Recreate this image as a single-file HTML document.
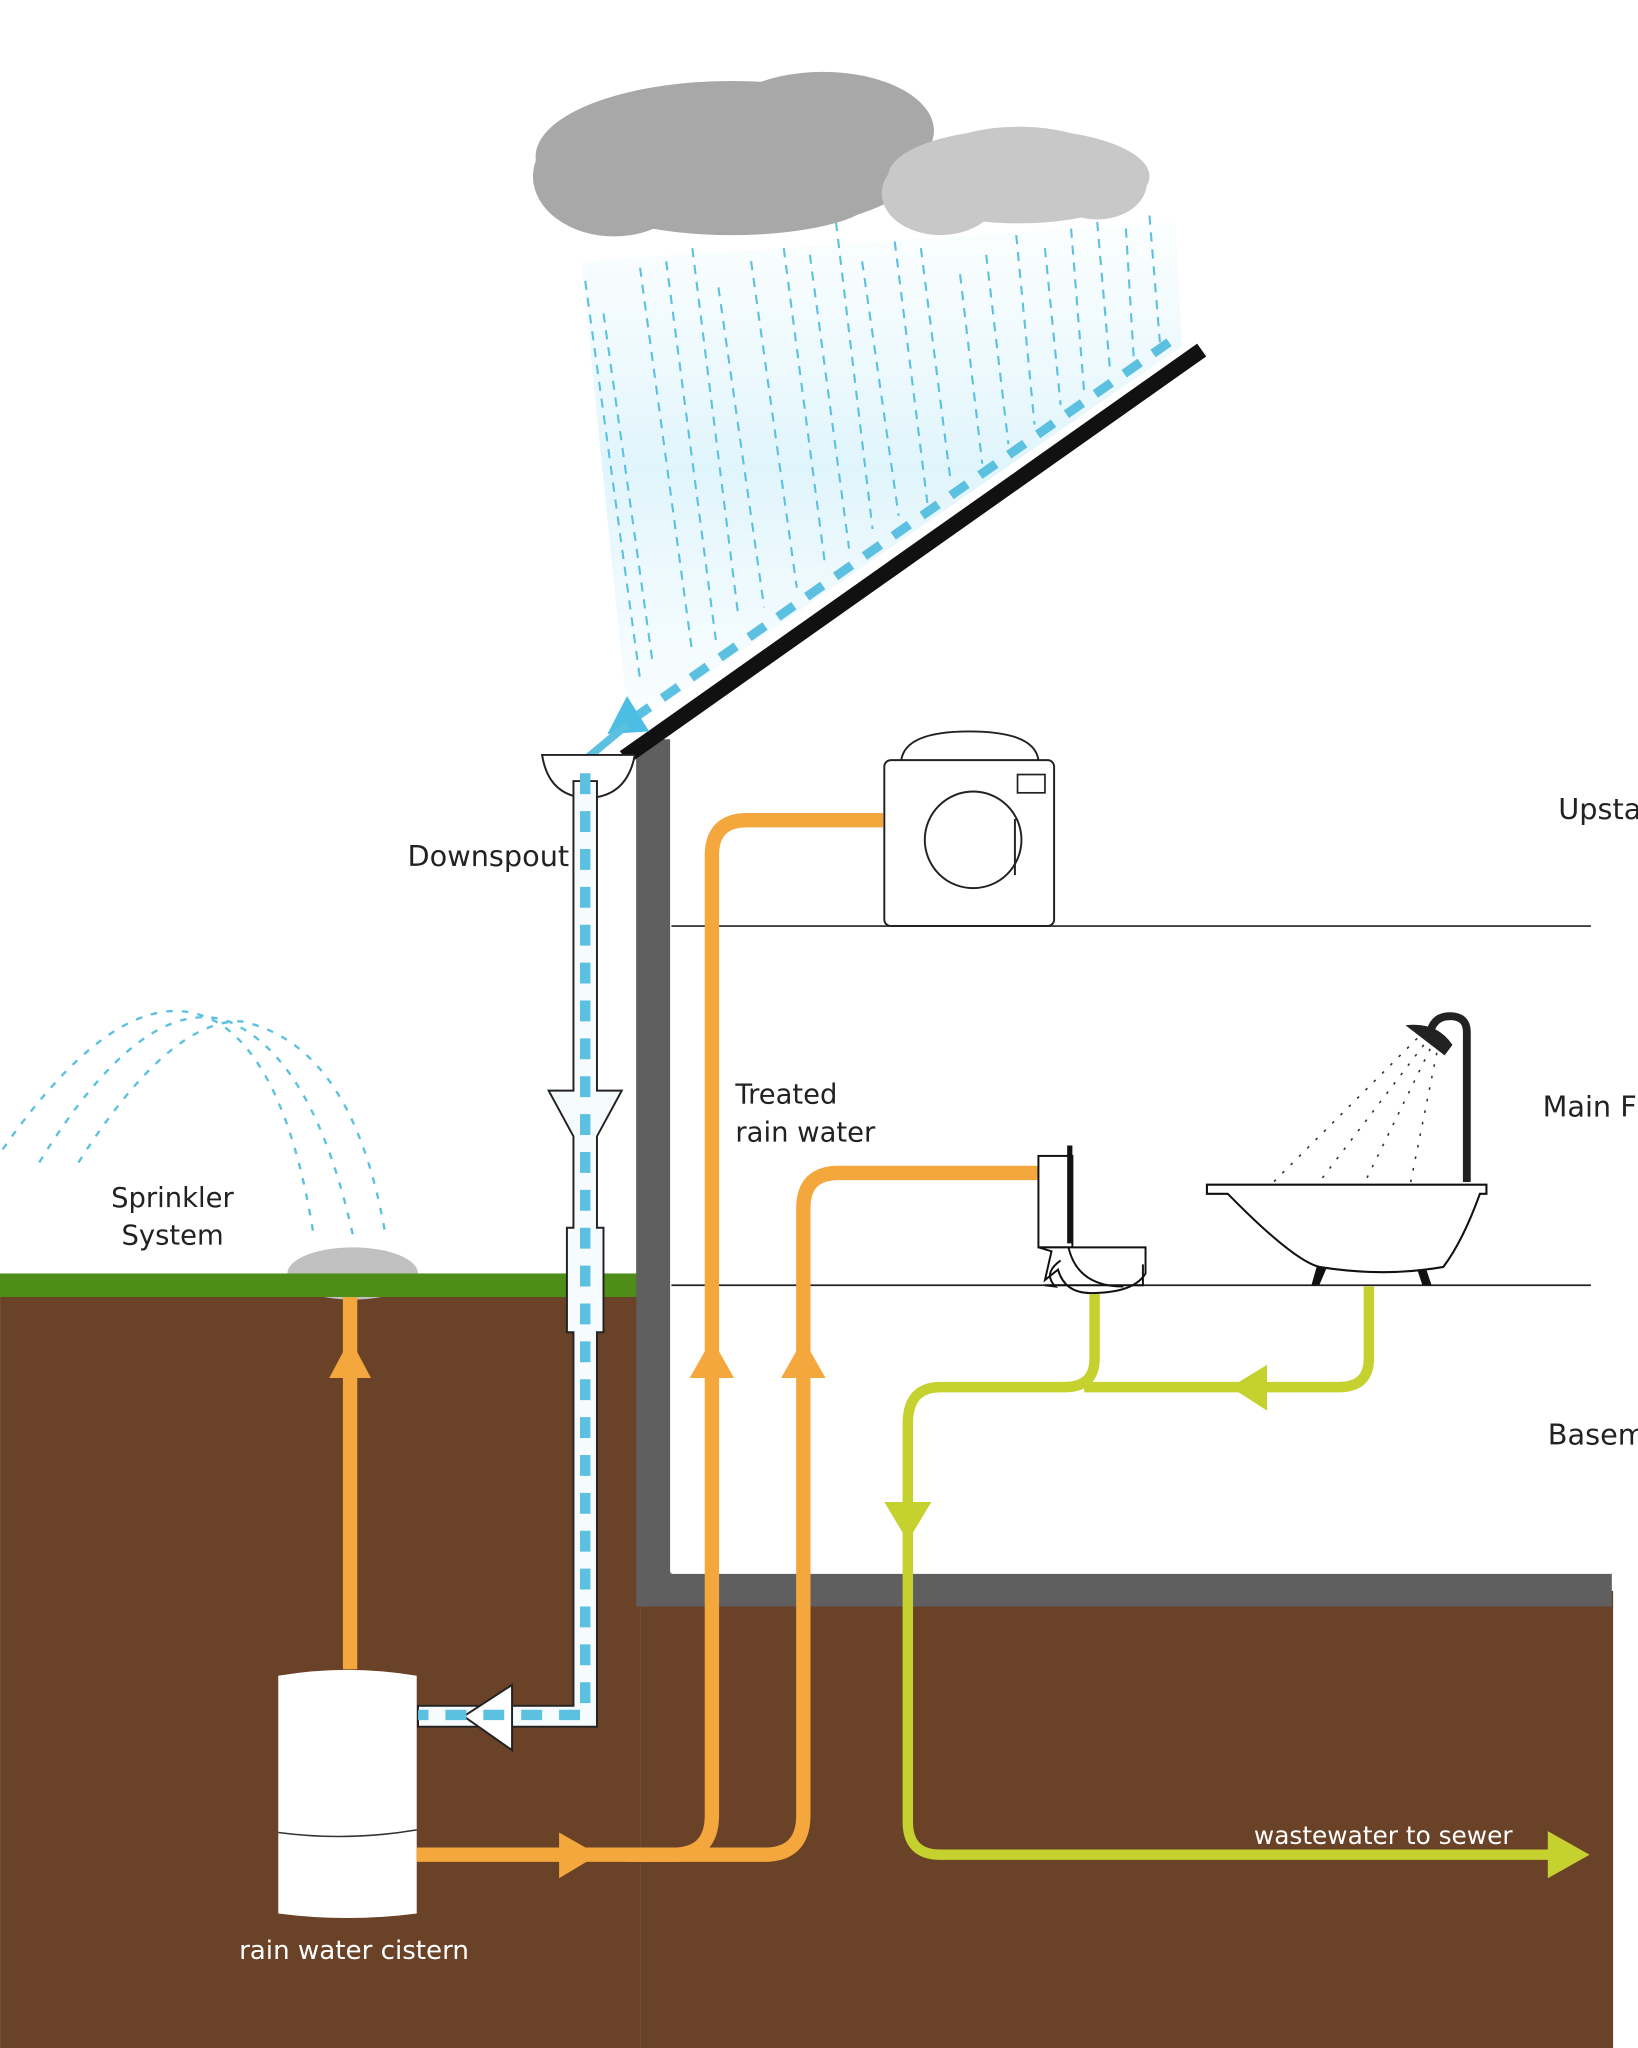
<!DOCTYPE html>
<html><head><meta charset="utf-8"><style>
html,body{margin:0;padding:0;background:#fff;overflow:hidden}
svg{display:block}
text{font-family:"DejaVu Sans","Liberation Sans",sans-serif;fill:#222}
</style></head><body>
<svg width="1638" height="2048" viewBox="0 0 1254 1568" xmlns="http://www.w3.org/2000/svg">
<defs>
<linearGradient id="rg" x1="0" y1="0" x2="0" y2="1"><stop offset="0" stop-color="#e6f7fd" stop-opacity="0.2"/><stop offset="0.5" stop-color="#d8f2fb"/><stop offset="1" stop-color="#e6f7fd" stop-opacity="0.3"/></linearGradient>
</defs>
<rect width="1254" height="1568" fill="#fff"/>
<!-- ground -->
<rect x="0" y="985" width="490" height="583" fill="#6a4227"/>
<rect x="490" y="1218" width="745" height="350" fill="#6a4227"/>
<rect x="0" y="975" width="490" height="18" fill="#4e8d17"/>
<!-- rain haze -->
<polygon points="445,200 900,170 905,265 500,545 480,545" fill="url(#rg)" opacity="0.8"/>
<g stroke="#5cc0e0" stroke-width="1.6" stroke-dasharray="7,6" fill="none">
<line x1="448" y1="215" x2="490" y2="520"/><line x1="462" y1="240" x2="500" y2="510"/>
<line x1="490" y1="205" x2="530" y2="500"/><line x1="510" y1="200" x2="548" y2="490"/>
<line x1="530" y1="190" x2="565" y2="470"/><line x1="550" y1="220" x2="585" y2="465"/>
<line x1="575" y1="200" x2="610" y2="450"/><line x1="600" y1="190" x2="632" y2="435"/>
<line x1="620" y1="195" x2="650" y2="420"/><line x1="640" y1="170" x2="668" y2="405"/>
<line x1="660" y1="200" x2="688" y2="395"/><line x1="685" y1="185" x2="710" y2="385"/>
<line x1="705" y1="190" x2="728" y2="370"/><line x1="735" y1="210" x2="752" y2="355"/>
<line x1="755" y1="195" x2="772" y2="340"/><line x1="778" y1="180" x2="792" y2="325"/>
<line x1="800" y1="190" x2="812" y2="310"/><line x1="820" y1="175" x2="830" y2="300"/>
<line x1="840" y1="170" x2="850" y2="285"/><line x1="862" y1="175" x2="868" y2="275"/>
<line x1="880" y1="165" x2="888" y2="262"/>
</g>
<!-- clouds -->
<g fill="#a8a8a8">
<ellipse cx="560" cy="120" rx="150" ry="58"/><ellipse cx="470" cy="135" rx="62" ry="46"/>
<ellipse cx="630" cy="100" rx="85" ry="45"/><ellipse cx="560" cy="150" rx="110" ry="30"/>
</g>
<g fill="#c8c8c8">
<ellipse cx="780" cy="135" rx="100" ry="36"/><ellipse cx="720" cy="148" rx="45" ry="32"/><ellipse cx="840" cy="140" rx="38" ry="28"/><ellipse cx="780" cy="125" rx="70" ry="28"/>
</g>
<!-- sprinkler arcs -->
<g stroke="#5cc0e0" stroke-width="1.8" stroke-dasharray="5,7" fill="none">
<path d="M2,880 Q100,740 170,785 Q220,820 240,945"/>
<path d="M30,890 Q110,760 175,782 Q240,810 270,945"/>
<path d="M60,890 Q130,780 185,782 Q270,800 295,945"/>
</g>
<ellipse cx="270" cy="975" rx="50" ry="20" fill="#c0c0c0"/>
<rect x="0" y="975" width="490" height="18" fill="#4e8d17"/>
<text x="85" y="924" font-size="21">Sprinkler</text>
<text x="93" y="953" font-size="21">System</text>
<!-- house wall -->
<path d="M500,566 V1217 H1234" stroke="#5f5f5f" stroke-width="26" fill="none"/>
<rect x="514" y="566" width="720" height="639" fill="#fff"/>
<line x1="514" y1="709" x2="1218" y2="709" stroke="#222" stroke-width="1.3"/>
<line x1="514" y1="984" x2="1218" y2="984" stroke="#222" stroke-width="1.3"/>
<!-- roof -->
<line x1="478" y1="580" x2="920" y2="268" stroke="#111" stroke-width="12"/>
<line x1="895" y1="262" x2="485" y2="550" stroke="#5cc0e0" stroke-width="7" stroke-dasharray="15,12"/>
<polygon points="480,533 465,562 497,560" fill="#4cbde3"/>
<line x1="480" y1="555" x2="450" y2="580" stroke="#5cc0e0" stroke-width="6"/>
<text x="1193" y="627" font-size="22">Upstai</text>
<text x="1181" y="855" font-size="22">Main Fl</text>
<text x="1185" y="1106" font-size="22">Baseme</text>
<!-- downspout -->
<path d="M415,578 H486 Q480,610 450,611 Q420,610 415,578 Z" fill="#fff" stroke="#222" stroke-width="1.5"/>
<path d="M439,598 V835 H420 L439,870 V940 H434 V1020 H439 V1306 H320 V1322 H457 V1020 H462 V940 H457 V870 L476,835 H457 V598 Z" fill="#f6fbfd" stroke="#222" stroke-width="1.5"/>
<polygon points="392,1290 392,1340 355,1314" fill="#fff" stroke="#222" stroke-width="1.5"/>
<path d="M448,592 V1313 H320" stroke="#5cc0e0" stroke-width="8" stroke-dasharray="16,13" fill="none"/>
<text x="312" y="663" font-size="22">Downspout</text>
<!-- cistern -->
<path d="M213,1283 Q266,1274 319,1283 V1465 Q266,1472 213,1465 Z" fill="#fff"/>
<path d="M213,1403 Q266,1410 319,1401" stroke="#333" stroke-width="1.2" fill="none"/>
<text x="183" y="1500" font-size="20" fill="#fff" style="fill:#fff">rain water cistern</text>
<!-- orange pipes -->
<g stroke="#f3a73c" stroke-width="11" fill="none">
<line x1="268" y1="1278" x2="268" y2="993"/>
<path d="M319,1420 H515 Q545,1420 545,1390 V655 Q545,628 572,628 H676"/>
<path d="M480,1420 H585 Q615,1420 615,1390 V925 Q615,898 642,898 H795"/>
</g>
<g fill="#f3a73c">
<polygon points="252,1055 284,1055 268,1025"/>
<polygon points="528,1055 562,1055 545,1025"/>
<polygon points="598,1055 632,1055 615,1025"/>
<polygon points="428,1403 428,1438 458,1420"/>
</g>
<!-- green pipes -->
<g stroke="#c5d12e" stroke-width="8" fill="none">
<path d="M838,985 V1040 Q838,1062 815,1062 H720 Q695,1062 695,1090 V1395 Q695,1420 720,1420 H1190"/>
<path d="M1048,985 V1040 Q1048,1062 1025,1062 H830"/>
</g>
<g fill="#c5d12e">
<polygon points="942,1062 970,1045 970,1080"/>
<polygon points="677,1150 713,1150 695,1180"/>
<polygon points="1185,1402 1185,1438 1217,1420"/>
</g>
<text x="960" y="1412" font-size="19" style="fill:#fff">wastewater to sewer</text>
<text x="563" y="845" font-size="21">Treated</text>
<text x="563" y="874" font-size="21">rain water</text>
<!-- washing machine -->
<path d="M690,582 Q693,560 742,560 Q792,560 795,582" fill="#fff" stroke="#222" stroke-width="1.5"/>
<rect x="677" y="582" width="130" height="127" rx="5" fill="#fff" stroke="#222" stroke-width="1.5"/>
<rect x="779" y="593" width="21" height="14" fill="none" stroke="#222" stroke-width="1.3"/>
<circle cx="745" cy="643" r="37" fill="none" stroke="#222" stroke-width="1.5"/>
<line x1="777" y1="627" x2="777" y2="670" stroke="#222" stroke-width="1.5"/>
<!-- toilet -->
<rect x="795" y="885" width="26" height="70" fill="#fff" stroke="#111" stroke-width="1.5"/>
<line x1="819" y1="877" x2="819" y2="952" stroke="#111" stroke-width="4"/>
<path d="M795,955 H877 V975 Q868,990 835,990 Q815,990 810,972 L800,980 L805,958 Z" fill="#fff" stroke="#111" stroke-width="1.5"/>
<path d="M818,955 Q825,985 860,985" fill="none" stroke="#111" stroke-width="1.5"/>
<path d="M812,965 Q798,975 808,985 L800,984 H875 V968" fill="none" stroke="#111" stroke-width="1.5"/>
<!-- tub -->
<path d="M1123,905 V790 Q1123,778 1110,778 Q1098,778 1095,790" stroke="#222" stroke-width="6" fill="none"/>
<path d="M1076,785 Q1100,782 1112,800 L1106,808 Z" fill="#222"/>
<g stroke="#333" stroke-width="1.2" stroke-dasharray="2,7" fill="none">
<line x1="1085" y1="795" x2="975" y2="905"/><line x1="1090" y1="800" x2="1010" y2="905"/>
<line x1="1095" y1="803" x2="1045" y2="905"/><line x1="1100" y1="806" x2="1080" y2="905"/>
</g>
<path d="M924,907 H1138 V914 H1133 Q1120,950 1105,970 Q1060,978 1010,970 Q990,965 940,914 H924 Z" fill="#fff" stroke="#111" stroke-width="1.6"/>
<polygon points="1008,970 1016,970 1010,984 1004,984" fill="#111"/>
<polygon points="1085,972 1092,972 1096,984 1089,984" fill="#111"/>
</svg>
</body></html>
